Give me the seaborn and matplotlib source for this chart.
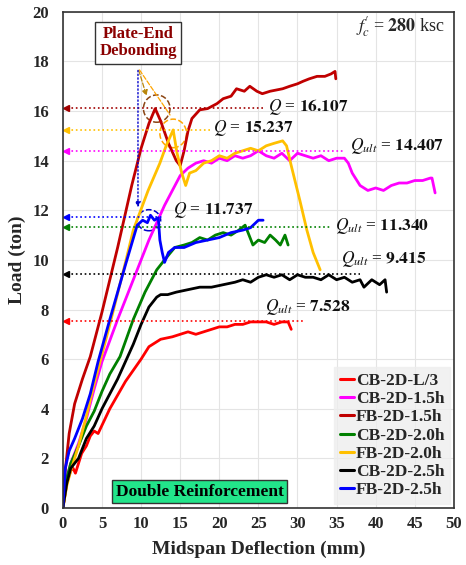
import numpy as np
import pandas as pd
import matplotlib
matplotlib.use('Agg')
import matplotlib.pyplot as plt
import seaborn as sns
from matplotlib.patches import Ellipse

# ---- data (deflection mm, load ton) ----
cb_l3_x = [0, 0.5, 1.0, 1.3, 1.6, 2.0, 2.4, 3.0, 3.5, 4.0, 4.5, 6, 8, 10, 11, 12.5, 14, 15, 16, 17, 18, 19, 20, 21, 22, 23, 24, 25, 26, 27, 28, 28.8, 29.2]
cb_l3_y = [0, 1.0, 1.5, 1.6, 1.4, 1.8, 2.2, 2.5, 2.9, 3.1, 3.0, 4.0, 5.1, 6.0, 6.5, 6.8, 6.9, 7.0, 7.1, 7.0, 7.1, 7.2, 7.3, 7.3, 7.4, 7.4, 7.5, 7.5, 7.5, 7.4, 7.5, 7.5, 7.2]

cb_15h_x = [0, 0.5, 1, 2, 3, 4, 5, 7, 9, 11, 13, 14, 15, 16, 17, 18, 19, 20, 21, 22, 23, 24, 25, 26, 27, 28, 29, 30, 31, 32, 33, 34, 35, 36, 36.5, 37, 38, 39, 40, 41, 42, 43, 44, 45, 46, 47, 47.2, 47.6]
cb_15h_y = [0, 1.2, 1.8, 2.6, 3.6, 4.8, 5.9, 7.6, 9.2, 10.8, 12.2, 12.8, 13.4, 13.7, 13.9, 14.0, 13.9, 14.1, 14.0, 14.2, 14.1, 14.2, 14.4, 14.2, 14.1, 14.3, 14.0, 14.3, 14.2, 14.1, 14.2, 14.0, 14.1, 14.1, 13.9, 13.5, 13.0, 12.8, 12.9, 12.8, 13.0, 13.1, 13.1, 13.2, 13.2, 13.3, 13.3, 12.7]

fb_15h_x = [0, 0.3, 0.8, 1.5, 2.5, 3.5, 5, 7, 8.8, 10, 11, 11.8, 12.5, 13.5, 14.5, 15, 15.5, 16, 16.5, 17.5, 18.5, 19.7, 20.5, 21.5, 22.2, 23.2, 23.9, 24.8, 25.5, 26.5, 28.1, 29, 30, 30.7, 31.5, 32.5, 33.5, 34.3, 34.8, 34.9]
fb_15h_y = [0, 1.5, 3.0, 4.2, 5.2, 6.1, 7.9, 10.5, 13.0, 14.5, 15.5, 16.1, 15.6, 14.7, 14.0, 13.8, 14.4, 15.2, 15.7, 16.05, 16.1, 16.3, 16.5, 16.6, 16.9, 16.8, 17.0, 16.8, 16.7, 16.8, 16.9, 17.0, 17.1, 17.2, 17.3, 17.4, 17.4, 17.5, 17.6, 17.3]

cb_20h_x = [0, 0.5, 1, 2, 3, 4, 5, 6, 7.3, 9, 10.5, 12, 13, 14.3, 15.5, 16.5, 17.5, 18.5, 19.5, 20.5, 21.5, 22.5, 23.3, 23.8, 24.3, 25, 25.8, 26.5, 27.2, 27.8, 28.4, 28.8]
cb_20h_y = [0, 1.2, 1.8, 2.5, 3.3, 3.9, 4.7, 5.4, 6.1, 7.6, 8.7, 9.6, 10.0, 10.5, 10.6, 10.7, 10.9, 10.8, 11.0, 11.1, 11.0, 11.2, 11.4, 11.0, 10.6, 10.8, 10.7, 11.0, 10.8, 10.6, 11.0, 10.6]

fb_20h_x = [0, 0.5, 1, 2, 3, 4, 6, 8, 9, 10.9, 12.4, 13.2, 14.1, 14.6, 15.2, 15.7, 16.2, 17, 18, 19, 20, 21, 22, 23, 24, 25, 26, 27, 28.1, 28.6, 29.2, 30.3, 31.2, 32.0, 32.9]
fb_20h_y = [0, 0.9, 1.5, 2.5, 3.7, 5.0, 7.4, 9.9, 11.2, 12.8, 13.9, 14.6, 15.24, 14.3, 13.5, 13.0, 13.5, 13.6, 13.9, 14.0, 14.2, 14.1, 14.3, 14.4, 14.5, 14.4, 14.6, 14.7, 14.8, 14.6, 13.8, 12.4, 11.2, 10.3, 9.6]

cb_25h_x = [0, 0.5, 1, 2, 3, 4, 5, 7, 9, 10, 11, 12, 12.5, 13.4, 14.5, 16, 17.5, 19, 20.5, 22, 23, 24, 25, 26, 27, 28, 29, 30, 31, 32, 33, 34, 35, 36, 37, 38, 38.5, 39.5, 40.5, 41.2, 41.4]
cb_25h_y = [0, 1.0, 1.6, 2.0, 2.8, 3.3, 4.0, 5.2, 6.6, 7.4, 8.1, 8.5, 8.6, 8.6, 8.7, 8.8, 8.9, 8.9, 9.0, 9.1, 9.2, 9.1, 9.3, 9.4, 9.3, 9.4, 9.2, 9.4, 9.3, 9.3, 9.2, 9.4, 9.2, 9.3, 9.1, 9.2, 8.9, 9.2, 9.0, 9.2, 8.7]

fb_25h_x = [0, 0.3, 0.8, 1.5, 2.5, 3.5, 4.5, 6, 8, 9.5, 10.2, 10.8, 11.2, 11.7, 12.2, 12.4, 12.7, 13.0, 13.5, 14.3, 15.5, 17, 18.5, 20, 21.5, 23, 24, 25, 25.6]
fb_25h_y = [0, 1.6, 2.3, 2.8, 3.6, 4.6, 5.9, 7.6, 9.8, 11.4, 11.6, 11.5, 11.8, 11.6, 11.7, 10.8, 10.3, 9.9, 10.3, 10.5, 10.5, 10.7, 10.8, 10.9, 11.1, 11.2, 11.3, 11.6, 11.6]

names = ['CB-2D-L/3', 'CB-2D-1.5h', 'FB-2D-1.5h', 'CB-2D-2.0h', 'FB-2D-2.0h', 'CB-2D-2.5h', 'FB-2D-2.5h']
colors = ['#FF0000', '#FF00FF', '#C00000', '#008000', '#FFC000', '#000000', '#0000FF']
series_x = [cb_l3_x, cb_15h_x, fb_15h_x, cb_20h_x, fb_20h_x, cb_25h_x, fb_25h_x]
series_y = [cb_l3_y, cb_15h_y, fb_15h_y, cb_20h_y, fb_20h_y, cb_25h_y, fb_25h_y]

# marked loads: value, colour index, end of dotted guide (mm), label pos, label text
q_vals = [16.107, 15.237, 14.407, 11.737, 11.340, 9.415, 7.528]
q_color = [2, 4, 1, 6, 3, 5, 0]
q_line_end = [25.8, 18.8, 36.0, 12.8, 34.4, 38.0, 31.0]
q_text_x = [26.2, 19.2, 36.7, 14.1, 34.8, 35.6, 25.8]
q_text_y = [16.17, 15.3, 14.6, 12.0, 11.35, 10.05, 8.1]
q_text = [r'$Q$ = $\mathbf{16.107}$', r'$Q$ = $\mathbf{15.237}$', r'$Q_{ult}$ = $\mathbf{14.407}$',
          r'$Q$ = $\mathbf{11.737}$', r'$Q_{ult}$ = $\mathbf{11.340}$', r'$Q_{ult}$ = $\mathbf{9.415}$',
          r'$Q_{ult}$ = $\mathbf{7.528}$']

rows = []
for n, xs, ys in zip(names, series_x, series_y):
    for a, b in zip(xs, ys):
        rows.append({'Specimen': n, 'Deflection': a, 'Load': b})
df = pd.DataFrame(rows)

sns.set_style('whitegrid')
plt.rcParams['font.family'] = ['Liberation Serif', 'DejaVu Serif']
plt.rcParams['mathtext.fontset'] = 'stix'
serif = ['Liberation Serif', 'DejaVu Serif']

fig, ax = plt.subplots(figsize=(4.66, 5.65), dpi=100)
fig.subplots_adjust(left=0.135, right=0.974, bottom=0.101, top=0.979)

sns.lineplot(data=df, x='Deflection', y='Load', hue='Specimen', hue_order=names,
             palette=colors, sort=False, estimator=None, linewidth=2.0, ax=ax)

# dotted guides with arrowheads at the load axis
for v, ci, xe, tx, ty, t in zip(q_vals, q_color, q_line_end, q_text_x, q_text_y, q_text):
    c = colors[ci]
    if c == '#C00000':
        c = '#A00000'
    ax.plot([0.5, xe], [v, v], ls=':', color=c, lw=1.2)
    ax.plot(0.45, v, marker='<', color=c, ms=4, clip_on=False)
    ax.text(tx, ty, t, fontsize=12.5, va='center', ha='left', color='#111111')

# debonding circles
ax.add_patch(Ellipse((12.0, 16.1), 3.4, 1.1, fill=False, ls='--', ec='#8B4513', lw=1.1))
ax.add_patch(Ellipse((14.1, 15.1), 3.4, 1.15, fill=False, ls='--', ec='#FFA500', lw=1.1))
ax.add_patch(Ellipse((11.0, 11.6), 3.0, 0.85, fill=False, ls='--', ec='#0000CC', lw=1.1))

# pointer lines from the label box
ax.annotate('', xy=(10.8, 16.5), xytext=(9.6, 17.75),
            arrowprops=dict(arrowstyle='-|>', ls='--', color='#B8860B', lw=0.9, mutation_scale=8))
ax.annotate('', xy=(13.9, 15.75), xytext=(9.6, 17.75),
            arrowprops=dict(arrowstyle='-', ls='--', color='#FFA500', lw=0.9))
ax.annotate('', xy=(9.6, 12.0), xytext=(9.6, 17.75),
            arrowprops=dict(arrowstyle='-|>', ls=':', color='#0000CC', lw=1.0, mutation_scale=8))

ax.text(9.6, 18.75, 'Plate-End\nDebonding', ha='center', va='center', fontsize=12,
        fontweight='bold', color='#8B0000', linespacing=1.1, family=serif,
        bbox=dict(boxstyle='square,pad=0.25', fc='white', ec='#333333', lw=1.0))

ax.text(48.8, 19.4, r"$f^{\!\prime}_{\!c}$ = $\mathbf{280}$ ksc", ha='right', va='center', fontsize=13)

ax.text(17.5, 0.65, 'Double Reinforcement', ha='center', va='center', fontsize=12.5,
        fontweight='bold', family=serif, color='black',
        bbox=dict(boxstyle='square,pad=0.2', fc='#22E58A', ec='#333333', lw=1.0))

ax.set_xlim(0, 50)
ax.set_ylim(0, 20)
ax.set_xticks(np.arange(0, 51, 5))
ax.set_yticks(np.arange(0, 21, 2))
ax.tick_params(direction='in', length=4, width=0.8, color='#333333', labelsize=12)
ax.tick_params(axis='x', pad=6)
ax.tick_params(axis='y', pad=10)
for lab in ax.get_xticklabels() + ax.get_yticklabels():
    lab.set_fontweight('bold')
ax.grid(True, color='#e4e4e4', lw=0.8)
for s in ax.spines.values():
    s.set_color('#333333')
    s.set_linewidth(1.2)
ax.set_xlabel('Midspan Deflection (mm)', fontsize=14, fontweight='bold', labelpad=6)
ax.set_ylabel('Load (ton)', fontsize=14, fontweight='bold')
ax.yaxis.set_label_coords(-0.095, 0.5)

leg = ax.legend(loc='lower right', prop={'family': serif, 'weight': 'bold', 'size': 12.5},
                frameon=True, fancybox=False,
                handlelength=0.8, handletextpad=0.1, borderpad=0.35, labelspacing=0.12,
                borderaxespad=0.2)
leg.get_frame().set_facecolor('#EEEEEE')
leg.get_frame().set_edgecolor('#EEEEEE')
for h in leg.get_lines():
    h.set_linewidth(2.2)

fig.savefig('out.png', dpi=100)
